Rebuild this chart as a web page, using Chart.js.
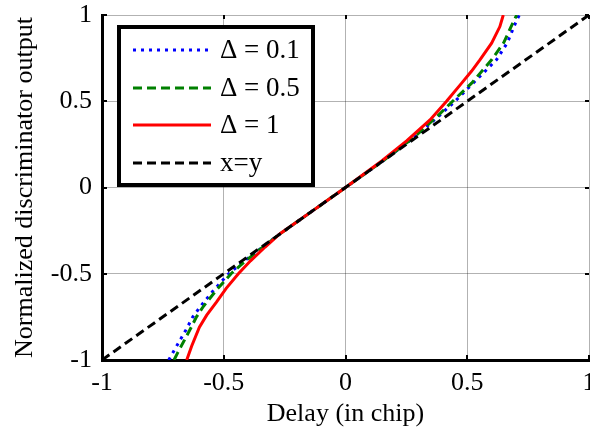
<!DOCTYPE html>
<html>
<head>
<meta charset="utf-8">
<script src="https://cdn.jsdelivr.net/npm/chart.js@4.4.1/dist/chart.umd.min.js"></script>
<style>
  html, body { margin: 0; padding: 0; background: #fff; }
  #wrap { width: 590px; height: 435px; position: relative; }
</style>
</head>
<body>
<div id="wrap"><canvas id="chart" width="590" height="435"></canvas></div>
<script>
// values
const xTicks = [-1, -0.5, 0, 0.5, 1];
const xTickLabels = ["-1", "-0.5", "0", "0.5", "1"];
const yTicks = [-1, -0.5, 0, 0.5, 1];
const yTickLabels = ["-1", "-0.5", "0", "0.5", "1"];

const seriesNames = ["\u0394 = 0.1", "\u0394 = 0.5", "\u0394 = 1", "x=y"];

const delay01 = [-0.726, -0.71, -0.655, -0.627, -0.596, -0.54, -0.48, -0.415, -0.372, -0.28, -0.15, 0, 0.15, 0.28, 0.38, 0.45, 0.524, 0.62, 0.665, 0.7, 0.714];
const output01 = [-1, -0.96, -0.825, -0.75, -0.69, -0.593, -0.5, -0.425, -0.38, -0.28, -0.15, 0, 0.15, 0.288, 0.41, 0.5, 0.605, 0.74, 0.84, 0.96, 1];

const delay05 = [-0.704, -0.69, -0.639, -0.612, -0.584, -0.529, -0.47, -0.41, -0.37, -0.28, -0.15, 0, 0.15, 0.28, 0.375, 0.44, 0.518, 0.6, 0.65, 0.689, 0.703];
const output05 = [-1, -0.96, -0.825, -0.75, -0.69, -0.593, -0.5, -0.425, -0.38, -0.28, -0.15, 0, 0.15, 0.29, 0.41, 0.5, 0.605, 0.74, 0.84, 0.96, 1];

const delay1 = [-0.652, -0.632, -0.6, -0.57, -0.53, -0.49, -0.44, -0.39, -0.33, -0.269, -0.15, 0, 0.15, 0.251, 0.347, 0.415, 0.477, 0.518, 0.552, 0.6, 0.634, 0.648];
const output1 = [-1, -0.92, -0.81, -0.74, -0.665, -0.585, -0.5, -0.425, -0.345, -0.268, -0.15, 0, 0.155, 0.27, 0.392, 0.5, 0.605, 0.675, 0.74, 0.837, 0.933, 1];

const delayRef = [-1, 1];
const outputRef = [-1, 1];

function toPoints(xs, ys) {
    return xs.map((x, i) => ({ x: x, y: ys[i] }));
}

const font = "'Liberation Serif', 'Times New Roman', serif";

// legend drawn inside the plot, matlab style
const boxLegend = {
    id: 'boxLegend',
    afterDraw(chart) {
        const ctx = chart.ctx;
        const left = 119, top = 27, w = 194, h = 158;
        ctx.save();
        ctx.fillStyle = '#fff';
        ctx.fillRect(left, top, w, h);
        ctx.lineWidth = 4;
        ctx.strokeStyle = '#000';
        ctx.strokeRect(left, top, w, h);

        const rows = [50, 88, 125, 163];
        chart.data.datasets.forEach((ds, i) => {
            const y = rows[i];
            ctx.beginPath();
            ctx.setLineDash(ds.borderDash || []);
            ctx.lineWidth = ds.borderWidth;
            ctx.strokeStyle = ds.borderColor;
            ctx.moveTo(133, y);
            ctx.lineTo(211, y);
            ctx.stroke();
            ctx.setLineDash([]);
            ctx.fillStyle = '#000';
            ctx.font = "27px " + font;
            ctx.textBaseline = 'middle';
            ctx.fillText(ds.label, 220, y + 1);
        });
        ctx.restore();
    }
};

// small inward ticks on all four sides
const innerTicks = {
    id: 'innerTicks',
    afterDatasetsDraw(chart) {
        const ctx = chart.ctx;
        const a = chart.chartArea;
        const xs = chart.scales.x, ys = chart.scales.y;
        ctx.save();
        ctx.strokeStyle = '#000';
        ctx.lineWidth = 2;
        ctx.beginPath();
        xTicks.forEach(v => {
            const px = Math.round(xs.getPixelForValue(v));
            ctx.moveTo(px, a.bottom); ctx.lineTo(px, a.bottom - 5);
            ctx.moveTo(px, a.top); ctx.lineTo(px, a.top + 4);
        });
        yTicks.forEach(v => {
            const py = Math.round(ys.getPixelForValue(v));
            ctx.moveTo(a.left, py); ctx.lineTo(a.left + 5, py);
            ctx.moveTo(a.right, py); ctx.lineTo(a.right - 4, py);
        });
        ctx.stroke();
        ctx.restore();
    }
};

const data = {
    datasets: [
        {
            label: seriesNames[0],
            data: toPoints(delay01, output01),
            borderColor: '#0000ff',
            borderWidth: 3,
            borderDash: [3, 5],
            order: 4
        },
        {
            label: seriesNames[1],
            data: toPoints(delay05, output05),
            borderColor: '#008000',
            borderWidth: 3,
            borderDash: [9, 5],
            order: 3
        },
        {
            label: seriesNames[2],
            data: toPoints(delay1, output1),
            borderColor: '#ff0000',
            borderWidth: 3,
            order: 2
        },
        {
            label: seriesNames[3],
            data: toPoints(delayRef, outputRef),
            borderColor: '#000000',
            borderWidth: 3,
            borderDash: [9, 5],
            order: 1
        }
    ]
};

const config = {
    type: 'scatter',
    data: data,
    options: {
        responsive: false,
        animation: false,
        showLine: true,
        elements: { point: { radius: 0 }, line: { tension: 0, fill: false } },
        layout: { padding: { top: 15, right: 1, left: 0, bottom: 0 } },
        plugins: { legend: { display: false }, tooltip: { enabled: false } },
        scales: {
            x: {
                type: 'linear',
                min: -1,
                max: 1,
                afterBuildTicks: axis => { axis.ticks = xTicks.map(v => ({ value: v })); },
                afterFit: axis => {
                    axis.height = 75;
                    axis.paddingLeft = 0;
                    axis.paddingRight = 0;
                },
                ticks: {
                    callback: (v, i) => xTickLabels[i],
                    color: '#000',
                    font: { family: font, size: 26 },
                    padding: 8,
                    maxRotation: 0
                },
                grid: { color: 'rgba(0,0,0,0.3)', lineWidth: 1, tickLength: 0 },
                border: { color: '#000', width: 3 },
                title: {
                    display: true,
                    text: 'Delay (in chip)',
                    color: '#000',
                    font: { family: font, size: 26 },
                    padding: { top: 0, bottom: 5 }
                }
            },
            y: {
                type: 'linear',
                min: -1,
                max: 1,
                afterBuildTicks: axis => { axis.ticks = yTicks.map(v => ({ value: v })); },
                afterFit: axis => {
                    axis.width = 102;
                    axis.paddingTop = 0;
                    axis.paddingBottom = 0;
                },
                ticks: {
                    callback: (v, i) => yTickLabels[i],
                    color: '#000',
                    font: { family: font, size: 26 },
                    padding: 10
                },
                grid: { color: 'rgba(0,0,0,0.3)', lineWidth: 1, tickLength: 0 },
                border: { color: '#000', width: 3 },
                title: {
                    display: true,
                    text: 'Normalized discriminator output',
                    color: '#000',
                    font: { family: font, size: 26 },
                    padding: { top: 10, bottom: 0 }
                }
            }
        }
    },
    plugins: [innerTicks, boxLegend]
};

new Chart(document.getElementById('chart'), config);
</script>
</body>
</html>
